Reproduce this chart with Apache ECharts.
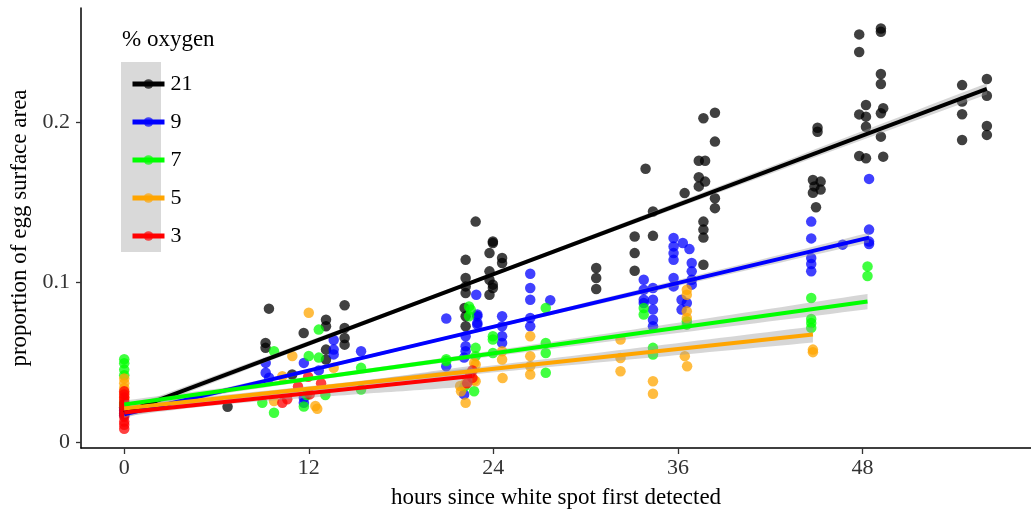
<!DOCTYPE html>
<html>
<head>
<meta charset="utf-8">
<script src="https://cdn.jsdelivr.net/npm/echarts@6/dist/echarts.min.js"></script>
<style>html,body{margin:0;padding:0;background:#fff}#chart{width:1031px;height:514px}</style>
</head>
<body>
<div id="chart"></div>
<script>
// ---- data ----
const groupNames = ['21', '9', '7', '5', '3'];
const groupColors = ['#000000', '#0000FF', '#00FF00', '#FFA500', '#FF0000'];
const xTicks = [0, 12, 24, 36, 48];
const yTicks = [0, 0.1, 0.2];

const o21 = [[0,0.018],[0,0.021],[0,0.024],[6.72,0.0223],[9.41,0.0836],[9.19,0.0622],[9.19,0.0591],
  [10.92,0.0424],[11.67,0.0684],[13.12,0.0767],[13.12,0.0726],[13.12,0.058],[13.12,0.0518],
  [14.33,0.0857],[14.33,0.0715],[14.33,0.0653],[14.33,0.0611],
  [22.85,0.138],[23.97,0.1256],[23.97,0.1246],[23.75,0.1183],[24.57,0.1152],[24.57,0.1121],
  [22.2,0.1141],[22.2,0.1027],[22.2,0.0975],[22.2,0.0934],[23.75,0.1069],[23.75,0.1017],[23.97,0.0986],
  [23.97,0.0965],[23.75,0.0923],[22.13,0.084],[22.2,0.0788],[22.2,0.0726],
  [30.69,0.109],[30.69,0.1027],[30.69,0.0959],[33.19,0.1287],[33.19,0.1183],[33.19,0.1073],
  [34.38,0.1443],[34.38,0.1291],[33.9,0.171],[36.44,0.1558],[37.36,0.176],[37.77,0.176],
  [37.36,0.1657],[37.77,0.163],[37.36,0.16],[37.66,0.2026],[38.41,0.206],[38.41,0.188],
  [38.41,0.1526],[38.41,0.1464],[37.66,0.138],[37.66,0.133],[37.66,0.128],[37.66,0.111],
  [45.08,0.1967],[45.08,0.1942],[44.78,0.164],[45.28,0.163],[44.88,0.16],[45.28,0.158],[44.78,0.156],[44.98,0.147],
  [47.79,0.255],[47.79,0.244],[49.2,0.2587],[49.2,0.2566],[49.2,0.2302],[49.2,0.224],
  [48.23,0.2109],[47.79,0.205],[48.23,0.2036],[48.23,0.1973],[49.35,0.2088],[49.2,0.2057],[49.2,0.1911],
  [47.79,0.179],[48.23,0.1776],[49.35,0.1786],
  [54.48,0.2233],[54.48,0.213],[54.48,0.2051],[54.48,0.189],
  [56.09,0.2271],[56.09,0.2167],[56.09,0.1978],[56.09,0.1922]];

const o9 = [[0,0.017],[0,0.020],[0,0.022],[9.2,0.0497],[9.2,0.0435],[9.42,0.0404],
  [11.68,0.0497],[11.68,0.0279],[11.68,0.0248],[13.62,0.058],[13.62,0.064],[13.62,0.055],[12.65,0.045],
  [15.4,0.057],[20.94,0.0774],[20.94,0.0476],
  [22.89,0.0923],[22.96,0.0788],[22.96,0.0747],[22.2,0.0663],[22.2,0.0601],[22.2,0.057],[22.1,0.030],[22.1,0.053],
  [22.96,0.080],[22.96,0.0736],[24.57,0.0788],[24.57,0.0726],[24.57,0.0663],[24.57,0.0622],
  [26.4,0.1054],[26.4,0.0965],[26.4,0.0892],[26.4,0.0778],[26.4,0.0726],[27.7,0.0888],
  [33.78,0.1017],[33.78,0.0954],[33.78,0.0892],[33.78,0.0871],
  [34.38,0.0965],[34.38,0.0892],[34.38,0.083],[34.38,0.0767],[34.38,0.0726],
  [35.72,0.1277],[35.72,0.1225],[35.72,0.1183],[35.72,0.1141],[36.32,0.1246],[36.75,0.1208],
  [36.9,0.1121],[36.9,0.1069],[36.9,0.1017],[36.9,0.0986],
  [35.72,0.1027],[35.72,0.0975],[36.24,0.0892],[36.58,0.0871],[36.24,0.083],
  [44.67,0.138],[44.67,0.1275],[44.67,0.1152],[44.67,0.1115],[44.67,0.107],[46.71,0.1236],
  [48.43,0.1647],[48.43,0.133],[48.43,0.1255],[48.43,0.124]];

const o7 = [[0,0.052],[0,0.0495],[0,0.0455],[0,0.042],[0,0.025],[0,0.023],
  [9.74,0.057],[8.98,0.0248],[9.74,0.0185],[12.65,0.0705],[12.0,0.054],[12.65,0.053],[13.08,0.0296],
  [11.68,0.0224],[11.86,0.0296],[15.4,0.0466],[15.4,0.0331],[20.94,0.052],[20.94,0.0508],
  [22.42,0.085],[22.53,0.083],[22.42,0.0788],[22.85,0.0591],[22.85,0.0539],[22.75,0.032],[22.13,0.035],
  [23.97,0.0663],[23.97,0.0643],[23.97,0.0559],[27.41,0.084],[27.41,0.0622],[27.41,0.0559],[27.41,0.0435],
  [33.78,0.084],[33.78,0.0799],[34.38,0.0591],[34.38,0.0549],[36.58,0.0757],[36.58,0.0736],
  [44.67,0.0902],[44.67,0.0771],[44.67,0.0746],[44.67,0.0716],[48.33,0.110],[48.33,0.104]];

const o5 = [[0,0.040],[0,0.037],[0,0.034],[0,0.031],[0,0.028],
  [12.0,0.081],[10.93,0.054],[10.28,0.0413],[9.74,0.0258],[12.43,0.0228],[12.55,0.021],[13.62,0.0466],
  [22.2,0.037],[22.2,0.0248],[22.75,0.0497],[22.75,0.039],[26.4,0.0663],[26.4,0.0539],[26.4,0.0476],[26.4,0.0424],
  [24.57,0.057],[24.57,0.0518],[24.6,0.0403],[22.85,0.0487],[22.85,0.0382],[21.84,0.0352],[21.9,0.032],
  [32.27,0.0643],[32.27,0.0528],[32.27,0.0445],[34.38,0.0382],[34.38,0.0304],
  [36.58,0.0954],[36.58,0.0923],[36.58,0.082],[36.58,0.0778],[36.45,0.0539],[36.6,0.0476],
  [44.78,0.0564],[44.78,0.058]];

const o3 = [[0,0.032],[0,0.030],[0,0.028],[0,0.026],[0,0.024],[0,0.022],[0,0.020],[0,0.018],
  [0,0.016],[0,0.013],[0,0.011],[0,0.0085],
  [10.28,0.0248],[10.6,0.027],[12.06,0.030],[11.96,0.041],[11.3,0.035],[12.8,0.037],
  [22.64,0.0404],[22.5,0.043],[22.3,0.037],[22.64,0.045]];

const groupPoints = [o21, o9, o7, o5, o3];

// fitted lm lines: value at x=0, last x, value at last x
const fitStart = [0.0185, 0.0175, 0.0237, 0.0212, 0.0187];
const fitEndX  = [56.09, 48.43, 48.33, 44.78, 22.64];
const fitEnd   = [0.221, 0.128, 0.088, 0.0674, 0.0415];
// confidence band half-widths: at start, minimum, at end
const bandStart = [0.0025, 0.0022, 0.0025, 0.0025, 0.0025];
const bandMin   = [0.0012, 0.0010, 0.0013, 0.0015, 0.0015];
const bandEnd   = [0.0035, 0.0030, 0.0048, 0.0050, 0.0065];

// ---- chart ----
const FONT = '"Liberation Serif", "DejaVu Serif", serif';
const chart = echarts.init(document.getElementById('chart'));

function halfWidth(i, x) {
  const hs = bandStart[i], hm = bandMin[i], he = bandEnd[i], xe = fitEndX[i];
  const r = Math.sqrt((hs*hs - hm*hm) / (he*he - hm*hm));
  const c = r * xe / (1 + r);
  const b = (hs*hs - hm*hm) / (c*c);
  return Math.sqrt(hm*hm + b*(x - c)*(x - c));
}

const series = [];
groupNames.forEach((n, i) => {
  series.push({
    type: 'line', name: n, z: 6, silent: true,
    data: [[0, fitStart[i]], [fitEndX[i], fitEnd[i]]],
    showSymbol: false, symbol: 'circle', symbolSize: 10,
    lineStyle: { color: groupColors[i], width: 4 },
    itemStyle: { color: groupColors[i], opacity: 0.7 },
    animation: false
  });
});
groupNames.forEach((n, i) => {
  series.push({
    type: 'custom', name: n, z: 4, silent: true, animation: false,
    data: [[0, fitStart[i]]],
    encode: { x: 0, y: 1 },
    renderItem: function (params, api) {
      const N = 60, xe = fitEndX[i];
      const up = [], lo = [];
      for (let k = 0; k <= N; k++) {
        const x = xe * k / N;
        const y = fitStart[i] + (fitEnd[i] - fitStart[i]) * x / xe;
        const h = halfWidth(i, x);
        up.push(api.coord([x, y + h]));
        lo.unshift(api.coord([x, y - h]));
      }
      return { type: 'polygon', shape: { points: up.concat(lo) },
        style: { fill: 'rgba(153,153,153,0.4)' } };
    }
  });
});
groupNames.forEach((n, i) => {
  series.push({
    type: 'scatter', name: n, z: 2 + i * 0.01, silent: true, animation: false,
    data: groupPoints[i], symbolSize: 10.5,
    itemStyle: { color: groupColors[i], opacity: 0.75 }
  });
});

chart.setOption({
  backgroundColor: '#ffffff',
  animation: false,
  grid: { left: 81, top: 8, width: 955, height: 440, containLabel: false },
  xAxis: {
    type: 'value', min: -2.81, max: 58.96,
    name: 'hours since white spot first detected', nameLocation: 'middle', nameGap: 38,
    nameTextStyle: { fontFamily: FONT, fontSize: 23, color: '#000' },
    axisLine: { show: true, onZero: false, lineStyle: { color: '#000', width: 1.5 } },
    axisTick: { show: true, length: 6, lineStyle: { color: '#333', width: 1.3 }, customValues: xTicks },
    axisLabel: { customValues: xTicks, fontFamily: FONT, fontSize: 22, color: '#333', margin: 9 },
    splitLine: { show: false }
  },
  yAxis: {
    type: 'value', min: -0.0035, max: 0.2715,
    name: 'proportion of egg surface area', nameLocation: 'middle', nameGap: 48, nameRotate: 90,
    nameTextStyle: { fontFamily: FONT, fontSize: 23, color: '#000' },
    axisLine: { show: true, onZero: false, lineStyle: { color: '#000', width: 1.5 } },
    axisTick: { show: true, length: 5, lineStyle: { color: '#333', width: 1.3 }, customValues: yTicks },
    axisLabel: { customValues: yTicks, fontFamily: FONT, fontSize: 22, color: '#333', margin: 11,
      formatter: v => String(v) },
    splitLine: { show: false }
  },
  legend: {
    data: groupNames, orient: 'vertical', left: 125, top: 68,
    itemWidth: 32, itemHeight: 12, itemGap: 16,
    lineStyle: { width: 5 },
    textStyle: { fontFamily: FONT, fontSize: 22, color: '#000', lineHeight: 22, padding: [0, 0, 0, 1] },
    selectedMode: false
  },
  graphic: [
    { type: 'rect', left: 121, top: 62, shape: { width: 40, height: 190 }, style: { fill: '#d9d9d9' }, z: -1 },
    { type: 'text', left: 122, top: 28, style: { text: '% oxygen', font: '23px "Liberation Serif", serif', fill: '#000' } }
  ],
  series: series
});
</script>
</body>
</html>
